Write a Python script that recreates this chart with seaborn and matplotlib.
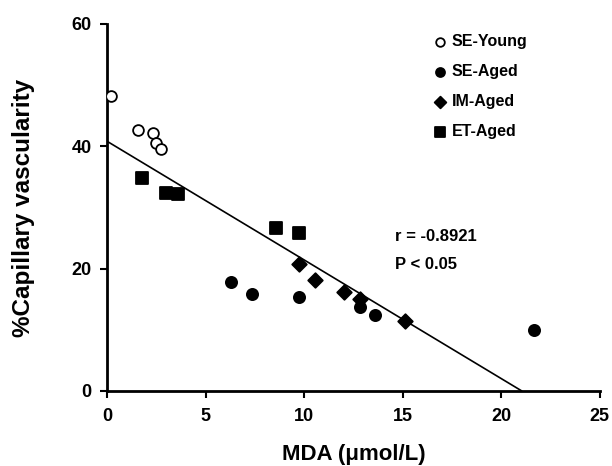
import numpy as np
import pandas as pd
import matplotlib
matplotlib.use("Agg")
import matplotlib.pyplot as plt
import seaborn as sns

# MDA (umol/L) and % capillary vascularity for each group
young_mda = [0.19, 1.59, 2.35, 2.48, 2.72]
young_cap = [48.3, 42.7, 42.1, 40.6, 39.6]

se_aged_mda = [6.29, 7.34, 9.75, 12.83, 13.59, 21.67]
se_aged_cap = [17.8, 15.8, 15.4, 13.8, 12.5, 10.0]

im_aged_mda = [9.75, 10.55, 12.02, 12.83, 15.10]
im_aged_cap = [20.8, 18.1, 16.2, 15.0, 11.4]

et_aged_mda = [1.76, 2.99, 3.62, 8.55, 9.75]
et_aged_cap = [34.9, 32.3, 32.2, 26.7, 25.9]

groups = ["SE-Young", "SE-Aged", "IM-Aged", "ET-Aged"]
r_text = "r = -0.8921"
p_text = "P < 0.05"

x_ticks = [0, 5, 10, 15, 20, 25]
y_ticks = [0, 20, 40, 60]

df = pd.DataFrame({
    "MDA": young_mda + se_aged_mda + im_aged_mda + et_aged_mda,
    "Cap": young_cap + se_aged_cap + im_aged_cap + et_aged_cap,
    "Group": (["SE-Young"] * len(young_mda) + ["SE-Aged"] * len(se_aged_mda)
              + ["IM-Aged"] * len(im_aged_mda) + ["ET-Aged"] * len(et_aged_mda)),
})

sns.set_theme(style="ticks")
plt.rcParams["font.family"] = ["Liberation Sans", "DejaVu Sans"]
plt.rcParams["font.weight"] = "bold"
for key in ["text.color", "axes.labelcolor", "xtick.color", "ytick.color",
            "axes.edgecolor"]:
    plt.rcParams[key] = "black"

fig = plt.figure(figsize=(6.12, 4.66), dpi=100)
ax = fig.add_axes([0.1748, 0.161, 0.8052, 0.7875])

styles = {
    "SE-Young": dict(marker="o", facecolor="white", s=60),
    "SE-Aged": dict(marker="o", facecolor="black", s=65),
    "IM-Aged": dict(marker="D", facecolor="black", s=55),
    "ET-Aged": dict(marker="s", facecolor="black", s=75),
}
for g in groups:
    st = styles[g]
    sns.scatterplot(data=df[df.Group == g], x="MDA", y="Cap", ax=ax,
                    marker=st["marker"], s=st["s"], color=st["facecolor"],
                    edgecolor="black", linewidth=1.3, label=g, zorder=3)

# least-squares line across all groups, drawn down to the x-axis
slope, intercept = np.polyfit(df.MDA, df.Cap, 1)
x_end = -intercept / slope
xs = np.array([0, x_end])
ax.plot(xs, intercept + slope * xs, color="black", lw=1.2, zorder=2)

ax.text(14.6, 25.3, r_text, fontsize=12, fontweight="bold", va="center")
ax.text(14.6, 20.6, p_text, fontsize=12, fontweight="bold", va="center")

ax.set_xlim(0, 25)
ax.set_ylim(0, 60)
ax.set_xticks(x_ticks)
ax.set_yticks(y_ticks)
ax.tick_params(axis="both", direction="out", length=5, width=1.5,
               labelsize=13, color="black")
ax.tick_params(axis="y", pad=6)
ax.tick_params(axis="x", pad=7)
for lab in ax.get_xticklabels() + ax.get_yticklabels():
    lab.set_fontweight("bold")
for side in ["top", "right"]:
    ax.spines[side].set_visible(False)
for side in ["left", "bottom"]:
    ax.spines[side].set_linewidth(2)

ax.set_xlabel("MDA (\u03bcmol/L)", fontsize=16, fontweight="bold", labelpad=14)
ax.set_ylabel("%Capillary vascularity", fontsize=17.5, fontweight="bold", labelpad=26)

leg = ax.legend(loc="upper left", bbox_to_anchor=(0.659, 0.973), frameon=False,
                fontsize=11.5, handlelength=1.0, handletextpad=0.25,
                labelspacing=0.95, markerscale=0.8, borderaxespad=0.0,
                borderpad=0.0)
for t in leg.get_texts():
    t.set_fontweight("bold")

fig.savefig("out.png", dpi=100)
